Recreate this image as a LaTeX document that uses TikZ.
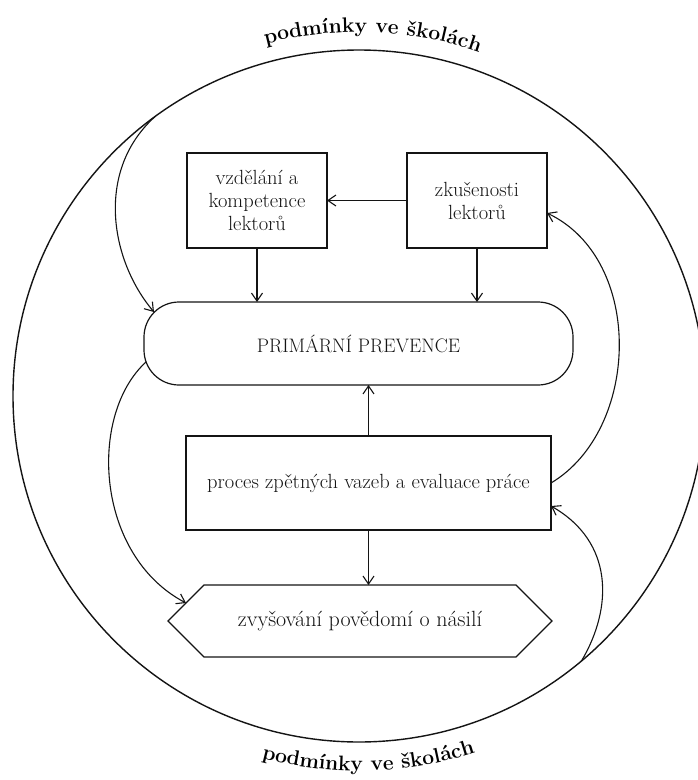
\documentclass[tikz,border=0pt]{standalone}
\usepackage{fontspec}
\usetikzlibrary{arrows.meta,decorations.text,calc}
\newcommand\boxfont{\fontsize{20.5}{23}\selectfont}
\newcommand\hexfont{\fontsize{22}{26}\selectfont}
\newcommand\capfont{\fontsize{19.5}{23}\selectfont}
\newcommand\ringfont{\bfseries\fontsize{21}{25}\selectfont}
\begin{document}
\begin{tikzpicture}[x=1pt,y=-1pt, line width=1.2pt, color=black!92, text=black!92,
  box/.style={draw, rectangle, inner sep=0pt, outer sep=0pt, align=center, font=\boxfont},
  arr/.style={-{Straight Barb[length=8pt,width=11pt]}, line width=1.1pt}]
\fill[white] (0,0) rectangle (697,780);
\useasboundingbox (0,0) rectangle (697,780);
% outer ring
\node[draw, circle, minimum size=692pt, inner sep=0pt, outer sep=0pt, line width=1.4pt] (ring) at (359,396) {};
% boxes
\node[box, minimum width=140pt, minimum height=95pt] (vzd) at (257,200.5) {vzdělání a\\kompetence\\lektorů};
\node[box, minimum width=140pt, minimum height=95pt] (zk) at (477,200.5) {zkušenosti\\lektorů};
\node[box, rounded corners=35pt, minimum width=429pt, minimum height=83pt, font=\capfont] (prim) at (358.5,343.5) {PRIMÁRNÍ PREVENCE};
\node[box, minimum width=365pt, minimum height=94pt] (proc) at (368.5,483) {proces zpětných vazeb a evaluace práce};
\node[inner sep=0pt, outer sep=0pt, minimum width=384pt, minimum height=72pt, font=\hexfont] (hex) at (360,621) {zvyšování povědomí o násilí};
\draw (hex.west) -- ([xshift=36pt]hex.north west) -- ([xshift=-36pt]hex.north east) -- (hex.east) -- ([xshift=-36pt]hex.south east) -- ([xshift=36pt]hex.south west) -- cycle;
% straight arrows
\draw[arr] (zk.west) -- (vzd.east);
\draw[arr] (vzd.south) -- (vzd.south |- prim.north);
\draw[arr] (zk.south) -- (zk.south |- prim.north);
\draw[arr] (proc.north) -- (proc.north |- prim.south);
\draw[arr] (proc.south) -- (proc.south |- hex.north);
% helper coordinates
\coordinate (c1) at (ring.126);
\coordinate (c4) at (ring.-50);
\coordinate (primtl) at ([shift={(10pt,-10pt)}]prim.north west);
\coordinate (primbl) at ([shift={(2pt,-60pt)}]prim.north west);
\coordinate (hexsl) at ($(hex.west)!0.5!([xshift=36pt]hex.north west)$);
\coordinate (zkr) at ([yshift=-12.5pt]zk.east);
\coordinate (procr) at ([yshift=-23pt]proc.east);
% curved arrows
\draw[arr] (c1) .. controls (95,170) and (110,260) .. (primtl);
\draw[arr] (primbl) .. controls (88,415) and (95,555) .. (hexsl);
\draw[arr] (proc.east) .. controls (640,430) and (645,260) .. (zkr);
\draw[arr] (c4) .. controls (613,608) and (614,542) .. (procr);
% ring labels
\path[decorate, decoration={text along path, text align=center, text={|\ringfont|podmínky ve školách}}]
  ($(ring.center)+(-127.8:364)$) arc[start angle=-127.8, end angle=-47.8, radius=364];
\path[decorate, decoration={text along path, text align=center, text={|\ringfont|podmínky ve školách}}]
  ($(ring.center)+(-231.5:375)$) arc[start angle=-231.5, end angle=-311.5, radius=375];
\end{tikzpicture}
\end{document}
